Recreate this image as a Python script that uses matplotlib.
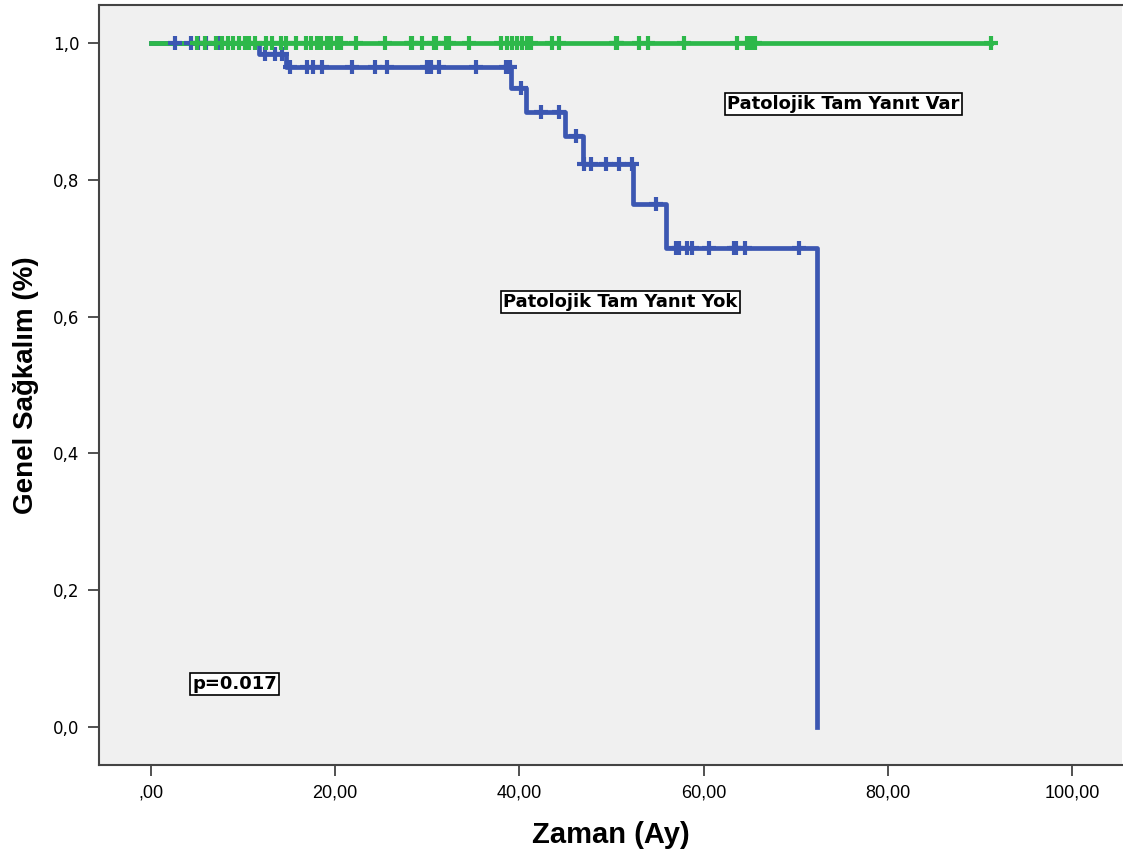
import numpy as np
import matplotlib
matplotlib.use("Agg")
import matplotlib.pyplot as plt
from matplotlib.ticker import FixedLocator

# ── data ─────────────────────────────────────────────────────────────────────
# "Patolojik Tam Yanit Yok" group: event times and survival after each step
yok_times = [0.0, 11.8, 14.7, 39.1, 40.7, 45.0, 46.9, 52.4, 55.9, 72.3]
yok_surv = [1.0, 0.984, 0.965, 0.934, 0.900, 0.864, 0.824, 0.765, 0.701, 0.0]
yok_censored = [2.6, 4.4, 5.1, 6.0, 7.5, 12.4, 13.5, 14.3, 15.1, 17.0, 17.6,
                18.6, 21.8, 24.3, 25.6, 30.0, 30.4, 31.3, 35.3, 38.6, 39.0,
                40.2, 42.4, 44.3, 46.2, 47.0, 47.8, 49.4, 50.8, 52.2, 54.8,
                57.0, 57.3, 58.2, 58.7, 60.6, 63.3, 63.5, 64.5, 70.4]

# "Patolojik Tam Yanit Var" group: no events
var_times = [0.0, 91.2]
var_surv = [1.0, 1.0]
var_censored = [5.0, 5.9, 7.1, 7.7, 8.4, 8.9, 9.6, 10.2, 10.7, 11.3, 12.5,
                13.2, 14.2, 14.7, 15.8, 16.9, 17.4, 18.0, 18.5, 19.1, 19.6,
                20.2, 20.7, 22.3, 25.4, 28.3, 28.4, 29.5, 30.8, 31.0, 32.1,
                32.4, 34.5, 38.0, 38.7, 39.2, 39.8, 40.3, 40.8, 41.3, 43.6,
                44.3, 50.5, 50.6, 53.0, 54.0, 57.9, 63.6, 64.7, 65.2, 65.6,
                91.2]

x_ticks = [0, 20, 40, 60, 80, 100]
x_ticklabels = [",00", "20,00", "40,00", "60,00", "80,00", "100,00"]
y_ticks = [0.0, 0.2, 0.4, 0.6, 0.8, 1.0]
y_ticklabels = ["0,0", "0,2", "0,4", "0,6", "0,8", "1,0"]

BLUE = "#3C57B2"
GREEN = "#2DB84A"
NARROW = ["Liberation Sans", "DejaVu Sans"]
WIDE = ["DejaVu Sans"]


def surv_at(times, surv, t):
    idx = np.searchsorted(times, t, side="right") - 1
    return np.asarray(surv)[idx]


plt.rcParams["font.family"] = NARROW

fig = plt.figure(figsize=(11.23, 8.52), dpi=100)
ax = fig.add_axes([0.0882, 0.1021, 0.9108, 0.892])
ax.set_facecolor("#F0F0F0")

ax.step(yok_times, yok_surv, where="post", color=BLUE, lw=3.4, zorder=2)
ax.step(var_times, var_surv, where="post", color=GREEN, lw=3.4, zorder=3)
ax.plot(yok_censored, surv_at(yok_times, yok_surv, yok_censored), ls="none",
        marker="+", ms=10, mew=3, color=BLUE, zorder=4)
ax.plot(var_censored, surv_at(var_times, var_surv, var_censored), ls="none",
        marker="+", ms=10, mew=3, color=GREEN, zorder=5)

box = dict(boxstyle="square,pad=0.12", facecolor="white", edgecolor="black", lw=1.2)
for x, y, s in [(75.2, 0.911, "Patolojik Tam Yanıt Var"),
                (51.0, 0.621, "Patolojik Tam Yanıt Yok"),
                (9.1, 0.063, "p=0.017")]:
    ax.text(x, y, s, ha="center", va="center", fontsize=13, fontweight="bold",
            family=WIDE, bbox=box, zorder=6)

ax.set_xlim(-5.6, 105.4)
ax.set_ylim(-0.056, 1.056)
ax.xaxis.set_major_locator(FixedLocator(x_ticks))
ax.yaxis.set_major_locator(FixedLocator(y_ticks))
ax.set_xticklabels(x_ticklabels, fontsize=13, family=NARROW)
ax.set_yticklabels(y_ticklabels, fontsize=12, family=WIDE)
ax.tick_params(length=8, width=1.2, color="#333333", pad=6)

for side in ["left", "bottom", "top"]:
    ax.spines[side].set_color("#444444")
    ax.spines[side].set_linewidth(1.5)
ax.spines["right"].set_visible(False)

ax.set_xlabel("Zaman (Ay)", fontsize=21, fontweight="bold", labelpad=14,
              family=NARROW)
ax.set_ylabel("Genel Sağkalım (%)", fontsize=20, fontweight="bold", labelpad=10,
              family=NARROW)

fig.savefig("out.png", dpi=100, facecolor="white")
